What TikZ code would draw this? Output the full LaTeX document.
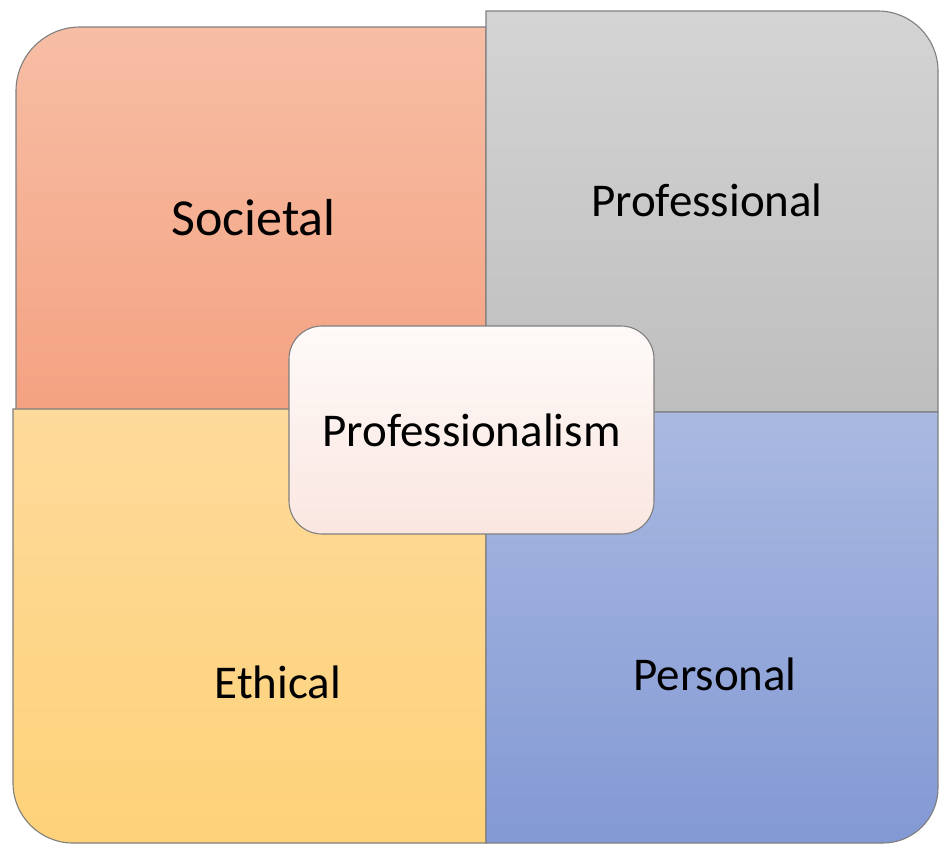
\documentclass[tikz,border=0pt]{standalone}
\usepackage{fontspec}
\setmainfont{Carlito}
\definecolor{socTop}{HTML}{F7BEA5}
\definecolor{socBot}{HTML}{F4A281}
\definecolor{proTop}{HTML}{D4D4D4}
\definecolor{proBot}{HTML}{BEBEBE}
\definecolor{ethTop}{HTML}{FEDA9B}
\definecolor{ethBot}{HTML}{FED279}
\definecolor{perTop}{HTML}{A9B9E1}
\definecolor{perBot}{HTML}{8399D4}
\definecolor{hubTop}{HTML}{FEFAF8}
\definecolor{hubBot}{HTML}{FAE6E1}
\definecolor{edgegray}{HTML}{7F7F7F}
\begin{document}
\begin{tikzpicture}[x=1pt,y=1pt,
  quad/.style={draw=edgegray,line width=1.1pt},
  lbl/.style={font=\fontsize{47}{56}\selectfont},
  hub/.style={quad,lbl,rounded corners=33pt,minimum width=365pt,minimum height=208pt,
    top color=hubTop,bottom color=hubBot}]
\useasboundingbox (0,0) rectangle (939,-844);
% Societal
\draw[quad,top color=socTop,bottom color=socBot] (486,-410) -- (16,-410) -- (16,-91) arc (180:90:64) -- (486,-27) -- cycle;
% Ethical
\draw[quad,top color=ethTop,bottom color=ethBot] (486,-409) -- (13,-409) -- (13,-783) arc (180:270:60) -- (486,-843) -- cycle;
% Professional
\draw[quad,top color=proTop,bottom color=proBot] (486,-412) -- (486,-11) -- (878,-11) arc (90:0:60) -- (938,-412) -- cycle;
% Personal
\draw[quad,top color=perTop,bottom color=perBot] (486,-412) -- (938,-412) -- (938,-788) arc (0:-90:55) -- (486,-843) -- cycle;
\foreach \n/\t/\x/\y/\s in {soc/Societal/253.5/218/52,pro/Professional/707/200/47,eth/Ethical/278/682/47,per/Personal/715/674/47}
{
\node[font=\fontsize{\s}{\s}\selectfont] (\n) at (\x,-\y) {\t};
}
\node[hub] (core) at (471.5,-430) {Professionalism};
\end{tikzpicture}
\end{document}
